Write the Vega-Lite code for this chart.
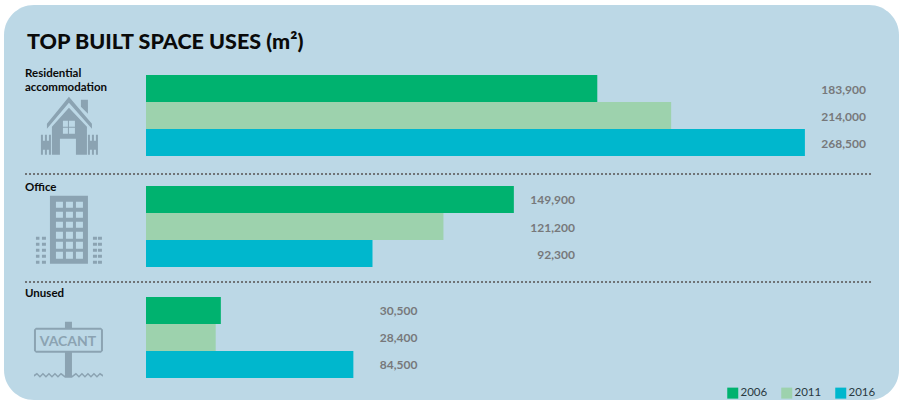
{"$schema":"https://vega.github.io/schema/vega-lite/v6.json","width":895,"height":395,"autosize":"none","padding":{"left":4,"top":5,"right":0,"bottom":0},"background":"#ffffff","view":{"fill":"#bcd8e6","stroke":null,"cornerRadius":30},
"title":{"text":"TOP BUILT SPACE USES (m²)","anchor":"start","frame":"group","dx":23,"offset":-48,"font":"Lato","fontSize":21.5,"fontWeight":900,"color":"#0a0a0a"},
"data":{"values":[
{"category":"Residential accommodation","year":"2006","value":183900},
{"category":"Residential accommodation","year":"2011","value":214000},
{"category":"Residential accommodation","year":"2016","value":268500},
{"category":"Office","year":"2006","value":149900},
{"category":"Office","year":"2011","value":121200},
{"category":"Office","year":"2016","value":92300},
{"category":"Unused","year":"2006","value":30500},
{"category":"Unused","year":"2011","value":28400},
{"category":"Unused","year":"2016","value":84500}]},
"encoding":{
"y":{"field":"category","type":"nominal","axis":null,"scale":{"domain":["Residential accommodation","Office","Unused"],"range":[70,373],"paddingInner":0.27,"paddingOuter":0}}},
"layer":[
{"mark":{"type":"bar"},"encoding":{
"x":{"field":"value","type":"quantitative","axis":null,"scale":{"domain":[-57865,306846],"nice":false,"zero":false}},
"yOffset":{"field":"year","type":"nominal","scale":{"paddingInner":0,"paddingOuter":0}},
"color":{"field":"year","type":"nominal","scale":{"domain":["2006","2011","2016"],"range":["#00b26f","#9dd2ad","#00b7cd"]},
"legend":{"title":null,"orient":"none","legendX":723,"legendY":382,"direction":"horizontal","columns":3,"symbolType":"square","symbolSize":121,"symbolStrokeWidth":0,"labelFont":"Lato","labelFontSize":11.5,"labelColor":"#2a3a42","labelOffset":2,"columnPadding":13,"padding":0,"symbolOpacity":1}}}},
{"transform":[{"joinaggregate":[{"op":"max","field":"value","as":"groupMax"}],"groupby":["category"]},{"filter":"datum.category!=='Unused'"}],
"mark":{"type":"text","align":"right","baseline":"middle","dx":61,"dy":1,"font":"Lato","fontSize":12,"fontWeight":"bold","color":"#77787b"},
"encoding":{"x":{"field":"groupMax","type":"quantitative"},"yOffset":{"field":"year","type":"nominal"},"text":{"field":"value","type":"quantitative","format":","}}},
{"transform":[{"joinaggregate":[{"op":"max","field":"value","as":"groupMax"}],"groupby":["category"]},{"filter":"datum.category==='Unused'"}],
"mark":{"type":"text","align":"right","baseline":"middle","dx":64,"dy":1,"font":"Lato","fontSize":12,"fontWeight":"bold","color":"#77787b"},
"encoding":{"x":{"field":"groupMax","type":"quantitative"},"yOffset":{"field":"year","type":"nominal"},"text":{"field":"value","type":"quantitative","format":","}}},
{"data":{"values":[{"category":"Residential accommodation"}]},
"mark":{"type":"text","align":"left","baseline":"top","lineBreak":" ","lineHeight":14,"dy":-7,"font":"Lato","fontSize":11.5,"fontWeight":"bold","color":"#0a0a0a"},
"encoding":{"x":{"datum":-49300},"y":{"field":"category","type":"nominal","bandPosition":0},"text":{"field":"category"}}},
{"data":{"values":[{"category":"Office"}]},
"mark":{"type":"text","align":"left","baseline":"top","dy":-4,"font":"Lato","fontSize":11.5,"fontWeight":"bold","color":"#0a0a0a"},
"encoding":{"x":{"datum":-49300},"y":{"field":"category","type":"nominal","bandPosition":0},"text":{"field":"category"}}},
{"data":{"values":[{"category":"Unused"}]},
"mark":{"type":"text","align":"left","baseline":"top","dy":-9,"font":"Lato","fontSize":11.5,"fontWeight":"bold","color":"#0a0a0a"},
"encoding":{"x":{"datum":-49300},"y":{"field":"category","type":"nominal","bandPosition":0},"text":{"field":"category"}}},
{"data":{"values":[{"category":"Office"}]},
"mark":{"type":"rule","yOffset":-12,"color":"#6f7376","strokeWidth":2,"strokeDash":[2,2]},
"encoding":{"x":{"datum":-49300},"x2":{"datum":295800},"y":{"field":"category","type":"nominal","bandPosition":0}}},
{"data":{"values":[{"category":"Unused"}]},
"mark":{"type":"rule","yOffset":-15,"color":"#6f7376","strokeWidth":2,"strokeDash":[2,2]},
"encoding":{"x":{"datum":-49300},"x2":{"datum":295800},"y":{"field":"category","type":"nominal","bandPosition":0}}},
{"data":{"values":[{"category":"Residential accommodation"}]},
"mark":{"type":"point","filled":true,"opacity":1,"color":"#8ba3b2","size":4,"shape":"M-1,-30L22,-3L22,2L-1,-24L-23,2L-23,-3ZM11,-27L18,-27L18,-13L11,-20ZM-1,-19L17,0L17,28L6,28L6,12L-10,12L-10,28L-18,28L-18,0ZM-7,-6L-7,0L-2,0L-2,-6ZM-1,-6L-1,0L5,0L5,-6ZM-7,1L-7,7L-2,7L-2,1ZM-1,1L-1,7L5,7L5,1ZM-29,8L-27,8L-27,14L-25,14L-25,8L-23,8L-23,14L-21,14L-21,8L-19,8L-19,28L-21,28L-21,23L-23,23L-23,28L-25,28L-25,23L-27,23L-27,28L-29,28ZM18,8L20,8L20,14L22,14L22,8L24,8L24,14L26,14L26,8L28,8L28,28L26,28L26,23L24,23L24,28L22,28L22,23L20,23L20,28L18,28Z"},
"encoding":{"x":{"datum":-31000},"y":{"field":"category","type":"nominal","bandPosition":0.64}}},
{"data":{"values":[{"category":"Office"}]},
"mark":{"type":"point","filled":true,"opacity":1,"color":"#8ba3b2","size":4,"shape":"M-19,-34L19,-34L19,34L-19,34ZM-13,-28L-13,-22L-6,-22L-6,-28ZM-3,-28L-3,-22L4,-22L4,-28ZM7,-28L7,-22L14,-22L14,-28ZM-13,-18L-13,-12L-6,-12L-6,-18ZM-3,-18L-3,-12L4,-12L4,-18ZM7,-18L7,-12L14,-12L14,-18ZM-13,-8L-13,-2L-6,-2L-6,-8ZM-3,-8L-3,-2L4,-2L4,-8ZM7,-8L7,-2L14,-2L14,-8ZM-13,2L-13,9L-6,9L-6,2ZM-3,2L-3,9L4,9L4,2ZM7,2L7,9L14,9L14,2ZM-13,12L-13,19L-6,19L-6,12ZM-3,12L-3,19L4,19L4,12ZM7,12L7,19L14,19L14,12ZM-13,22L-13,29L-6,29L-6,22ZM-3,22L-3,29L4,29L4,22ZM7,22L7,29L14,29L14,22ZM-33,7H-29.5V10H-33ZM-27,7H-23V10H-27ZM-33,13H-29.5V16H-33ZM-27,13H-23V16H-27ZM-33,19H-29.5V22H-33ZM-27,19H-23V22H-27ZM-33,25H-29.5V28H-33ZM-27,25H-23V28H-27ZM-33,31H-29.5V34H-33ZM-27,31H-23V34H-27ZM24,7H28V10H24ZM29,7H33V10H29ZM24,13H28V16H24ZM29,13H33V16H29ZM24,19H28V22H24ZM29,19H33V22H29ZM24,25H28V28H24ZM29,25H33V28H29ZM24,31H28V34H24ZM29,31H33V34H29Z"},
"encoding":{"x":{"datum":-31400},"y":{"field":"category","type":"nominal","bandPosition":0.54}}},
{"data":{"values":[{"category":"Unused"}]},
"mark":{"type":"point","filled":true,"opacity":1,"color":"#8ba3b2","size":4,"shape":"M-3,-28L4,-28L4,-22L33,-22L35,-20L35,1L33,3L4,3L4,27L-3,27L-3,3L-32,3L-34,1L-34,-20L-32,-22L-3,-22ZM-32,-20L-32,1L33,1L33,-20ZM-34,25L-31,23L-28,26L-25,23L-22,26L-19,23L-16,26L-13,23L-10,26L-7,23L-3,26L4,26L8,23L11,26L14,23L17,26L20,23L23,26L26,23L29,26L32,23L35,25L35,27L32,25L29,28L26,25L23,28L20,25L17,28L14,25L11,28L8,25L4,28L-3,28L-7,25L-10,28L-13,25L-16,28L-19,25L-22,28L-25,25L-28,28L-31,25L-34,27Z"},
"encoding":{"x":{"datum":-31800},"y":{"field":"category","type":"nominal","bandPosition":0.65}}},
{"data":{"values":[{"category":"Unused","sign":"VACANT"}]},
"mark":{"type":"text","align":"center","baseline":"middle","dy":-8,"font":"Lato","fontSize":14,"fontWeight":"bold","color":"#8ba3b2"},
"encoding":{"x":{"datum":-31800},"y":{"field":"category","type":"nominal","bandPosition":0.65},"text":{"field":"sign"}}}
]}
